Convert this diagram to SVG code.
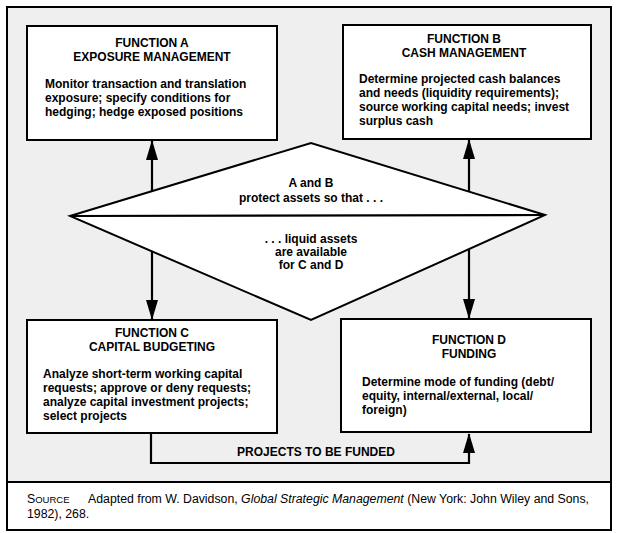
<svg xmlns="http://www.w3.org/2000/svg" width="617" height="533" viewBox="0 0 617 533">
<defs>
<style>
.frame{fill:#efefef;stroke:#000;stroke-width:2}
.note{fill:#fff;stroke:#000;stroke-width:2}
.box{fill:#fff;stroke:#000;stroke-width:2}
.ln{fill:none;stroke:#000;stroke-width:2.2}
text{font-family:"Liberation Sans",Arial,sans-serif;fill:#000}
.t{font-size:12px;font-weight:bold;text-anchor:middle}
.b{font-size:12px;font-weight:bold}
.s{font-size:12.3px}
</style>
<marker id="arr" viewBox="0 0 20 12" refX="19" refY="6" markerWidth="20" markerHeight="12" markerUnits="userSpaceOnUse" orient="auto">
<path d="M0,0 L20,6 L0,12 Z" fill="#000"/>
</marker>
</defs>
<rect class="frame" x="7" y="7" width="604" height="523"/>
<rect class="note" x="7" y="482" width="604" height="48"/>

<g id="diamond">
<polygon class="box" points="70,216 311,143 545,215 311,320"/>
<line class="ln" x1="70" y1="216" x2="545" y2="215"/>
<text class="t" x="311" y="187">A and B</text>
<text class="t" x="311" y="202">protect assets so that . . .</text>
<text class="t" x="311" y="243">. . . liquid assets</text>
<text class="t" x="311" y="256">are available</text>
<text class="t" x="311" y="269">for C and D</text>
</g>

<g id="connectors">
<line class="ln" x1="152" y1="191" x2="152" y2="141" marker-end="url(#arr)"/>
<line class="ln" x1="469" y1="192" x2="469" y2="140" marker-end="url(#arr)"/>
<line class="ln" x1="152" y1="251" x2="152" y2="319" marker-end="url(#arr)"/>
<line class="ln" x1="469" y1="249" x2="469" y2="318" marker-end="url(#arr)"/>
<path class="ln" d="M151,433 V463 H469 V434" marker-end="url(#arr)"/>
<text class="b" x="316" y="456" text-anchor="middle">PROJECTS TO BE FUNDED</text>
</g>

<g id="functionA">
<rect class="box" x="27" y="26" width="250" height="114"/>
<text class="t" x="152" y="47">FUNCTION A</text>
<text class="t" x="152" y="61">EXPOSURE MANAGEMENT</text>
<text class="b" x="45" y="88">Monitor transaction and translation</text>
<text class="b" x="45" y="102">exposure; specify conditions for</text>
<text class="b" x="45" y="116">hedging; hedge exposed positions</text>
</g>

<g id="functionB">
<rect class="box" x="343" y="25" width="248" height="114"/>
<text class="t" x="464" y="43">FUNCTION B</text>
<text class="t" x="464" y="57">CASH MANAGEMENT</text>
<text class="b" x="359" y="83">Determine projected cash balances</text>
<text class="b" x="359" y="97">and needs (liquidity requirements);</text>
<text class="b" x="359" y="111">source working capital needs; invest</text>
<text class="b" x="359" y="125">surplus cash</text>
</g>

<g id="functionC">
<rect class="box" x="27" y="320" width="250" height="113"/>
<text class="t" x="152" y="337">FUNCTION C</text>
<text class="t" x="152" y="351">CAPITAL BUDGETING</text>
<text class="b" x="43" y="378">Analyze short-term working capital</text>
<text class="b" x="43" y="392">requests; approve or deny requests;</text>
<text class="b" x="43" y="406">analyze capital investment projects;</text>
<text class="b" x="43" y="420">select projects</text>
</g>

<g id="functionD">
<rect class="box" x="341" y="319" width="250" height="113"/>
<text class="t" x="469" y="344">FUNCTION D</text>
<text class="t" x="469" y="358">FUNDING</text>
<text class="b" x="362" y="386">Determine mode of funding (debt/</text>
<text class="b" x="362" y="400">equity, internal/external, local/</text>
<text class="b" x="362" y="414">foreign)</text>
</g>

<g id="source">
<text class="s" x="27" y="503">S<tspan font-size="9.5px">OURCE</tspan></text>
<text class="s" x="88" y="503">Adapted from W. Davidson, <tspan font-style="italic">Global Strategic Management</tspan> (New York: John Wiley and Sons,</text>
<text class="s" x="27" y="518">1982), 268.</text>
</g>
</svg>
